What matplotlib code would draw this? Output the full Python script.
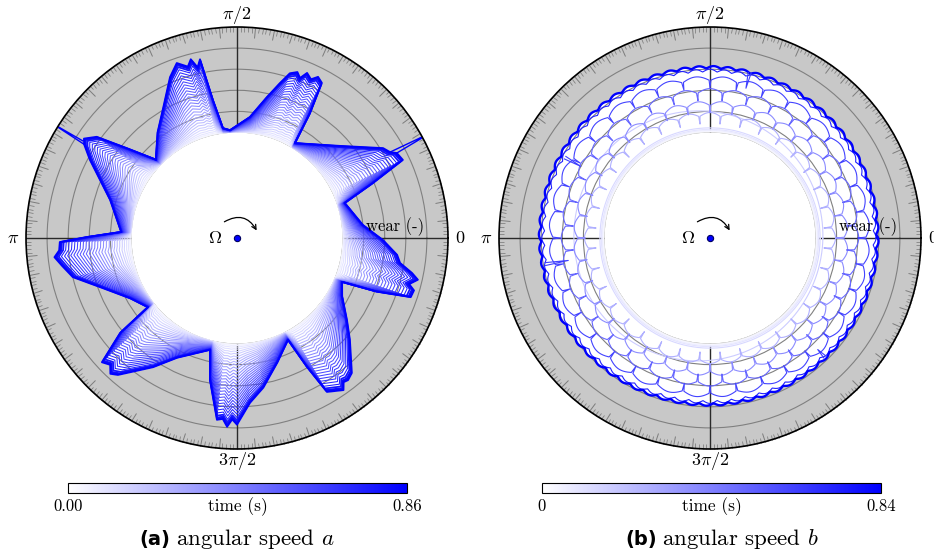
import numpy as np
import matplotlib
matplotlib.use('Agg')
import matplotlib.pyplot as plt
from matplotlib.colors import LinearSegmentedColormap, Normalize
from matplotlib.ticker import FixedLocator, FuncFormatter
from matplotlib.patches import FancyArrowPatch
import matplotlib.cm as cm

plt.rcParams['mathtext.fontset'] = 'cm'
plt.rcParams['font.family'] = ['cmr10', 'DejaVu Serif']
plt.rcParams['axes.formatter.use_mathtext'] = True

# ---------------- data: panel (a) ----------------
# final wear profile, read clockwise (degrees, wear)
theta_a = [136, 127, 119.5, 112.6, 109, 106, 104.5, 103, 101.7, 99.9, 97.3,
           93.7, 83.9, 78, 74.5, 72.2, 70, 68.5, 67, 65, 63.3, 61.3, 59.7, 58.6,
           41.8, 31.6, 29.3, 28.0, 25.2, 22, 18,
           5.9, -0.8, -6, -8.7, -11.3, -13, -15, -16.5, -18.8, -21, -22.7,
           -29, -36.7, -42, -49.6, -52, -53.5, -55, -59.7, -61.5, -63.4,
           -72, -80, -85.5, -90, -91.5, -93, -94.5, -96.3, -100.8, -103.5,
           -116.6, -123, -131, -133, -135, -137.4, -140.9, -142.2,
           -150.6, -160.3, -166.6, -171, -174, -176, -178.7, -180.4, -183,
           -196.7, -208, -211.5, -213, -215.8, -219.3, -224]
wear_a = [0.35, 1.26, 2.1, 3.26, 3.77, 3.45, 3.75, 3.3, 3.65, 1.64, 0.25,
          0.12, 0.77, 1.83, 2.62, 3.2, 3.37, 3.15, 3.5, 3.3, 3.55, 3.38, 1.86, 0.27,
          1.55, 3.13, 3.32, 3.58, 3.69, 1.95, 0.37,
          1.0, 1.92, 2.63, 2.82, 3.46, 3.8, 3.45, 3.75, 3.7, 2.1, 0.4,
          0.7, 1.5, 2.2, 3.4, 3.55, 3.5, 3.8, 3.45, 1.95, 0.4,
          1.2, 2.2, 2.84, 3.85, 3.6, 3.96, 3.6, 3.67, 1.85, 0.45,
          1.35, 2.3, 3.6, 3.8, 3.5, 3.7, 2.14, 0.35,
          0.82, 1.9, 3.0, 3.4, 3.7, 3.45, 3.4, 2.1, 0.5,
          1.28, 2.9, 3.5, 3.65, 3.2, 1.7, 0.35]
# thin spikes reaching the rim on the last profile
spike_a_theta = [[29.3, 28.5, 28.0], [148.5, 148.2, 147.8]]
spike_a_wear = [[3.32, 5.4, 3.58], [3.5, 5.4, 3.65]]
# recorded profiles: time (s) and fraction of the final wear
time_a = [0.00, 0.03, 0.06, 0.09, 0.11, 0.14, 0.17, 0.20, 0.23, 0.26, 0.29,
          0.32, 0.34, 0.37, 0.40, 0.43, 0.46, 0.49, 0.52, 0.55, 0.57, 0.60,
          0.63, 0.66, 0.69, 0.72, 0.75, 0.78, 0.80, 0.83, 0.86]
frac_a = [0.0, 0.01, 0.025, 0.045, 0.07, 0.10, 0.13, 0.165, 0.20, 0.235, 0.27,
          0.31, 0.35, 0.39, 0.43, 0.47, 0.51, 0.55, 0.59, 0.63, 0.67, 0.71,
          0.75, 0.79, 0.83, 0.87, 0.91, 0.945, 0.97, 0.985, 1.0]
tmax_a = 0.86

# ---------------- data: panel (b) ----------------
# recorded profiles: time, arc-top wear level, scallop depth, number of
# scallops, scallop phase, depth of the narrow notches between scallops,
# and the eccentric offset of the profile
time_b = [0.00, 0.03, 0.06, 0.09, 0.13, 0.17, 0.26, 0.38, 0.50, 0.62,
          0.73, 0.84]
level_b = [0.00, 0.05, 0.10, 0.15, 0.22, 0.90, 0.95, 1.50, 2.05, 2.60,
           2.92, 3.05]
amp_b = [0, 0, 0, 0, 0, 0, 0.18, 0.2, 0.2, 0.2, 0.13, 0.12]
nsc_b = [36, 36, 36, 36, 36, 36, 36, 36, 36, 36, 72, 72]
phase_b = [0, 0, 0, 0, 0, 0, 0.5, 0.0, 0.5, 0.0, 0.5, 0.25]
notch_b = [0, 0, 0, 0, 0, 0, 0.35, 0.35, 0.35, 0.35, 0.0, 0.0]
shift_x_b = [0, 0, 0, 0, 0, -0.55, 0.0, 0.04, 0.0, -0.03, -0.05, -0.06]
shift_y_b = [0, 0, 0, 0, 0, 0.10, 0.0, -0.02, 0.03, 0.06, 0.08, 0.10]
tmax_b = 0.84
# thin inward spikes on late profiles (degrees, wear)
spike_b_theta = [[-170.5, -171.0, -171.5], [150.5, 151.0, 151.5], [76.0, 76.5, 77.0],
                 [-45.5, -46.0, -46.5]]
spike_b_wear = [[2.9, 1.8, 2.9], [2.85, 2.0, 2.85], [3.05, 2.3, 3.05],
                [2.85, 2.35, 2.85]]

W, H = 934, 555
fig = plt.figure(figsize=(W / 100, H / 100), dpi=100)
cmap = LinearSegmentedColormap.from_list('wb', ['#ffffff', '#0000ff'])
FS = 11.5


def setup_polar(left_px):
    ax = fig.add_axes([left_px / W, 1 - 449 / H, 422 / W, 422 / H], projection='polar')
    ax.set_rorigin(-5)
    ax.set_ylim(0, 5)
    ax.set_facecolor('#c8c8c8')
    ax.set_yticks([0, 1, 2, 3, 4, 5])
    ax.set_yticklabels([])
    ax.yaxis.grid(True, color='#808080', lw=0.8)
    ax.xaxis.grid(False)
    ax.xaxis.set_major_locator(FixedLocator(np.deg2rad(np.arange(0, 360, 5))))
    ax.xaxis.set_minor_locator(FixedLocator(np.deg2rad(np.arange(0, 360, 1))))
    labels = {0: '$0$', 90: r'$\pi/2$', 180: r'$\pi$', 270: r'$3\pi/2$'}
    ax.xaxis.set_major_formatter(FuncFormatter(
        lambda x, p: labels.get(int(round(np.rad2deg(x))) % 360, '')))
    ax.tick_params(axis='x', which='both', bottom=False, top=True,
                   labelbottom=True, labeltop=False)
    ax.tick_params(axis='x', which='major', direction='in', length=7, width=0.7,
                   color='#7c7c7c', pad=2, labelsize=13)
    ax.tick_params(axis='x', which='minor', direction='in', length=3.5, width=0.55,
                   color='#7c7c7c')
    ax.tick_params(axis='y', length=0)
    for t in [0, 90, 180, 270]:
        ax.axvline(np.deg2rad(t), color='#2a2a2a', lw=1.0, zorder=1.6)
    ax.spines['polar'].set_color('black')
    ax.spines['polar'].set_linewidth(1.2)
    ax.spines['inner'].set_edgecolor('none')
    ax.spines['inner'].set_linewidth(0)
    for r in range(6):
        ax.annotate(f'{r}', xy=(0, r), xytext=(0, -1.5), textcoords='offset points',
                    ha='center', va='top', fontsize=FS, zorder=5)
    ax.text(0.874, 0.526, 'wear (-)', transform=ax.transAxes,
            ha='center', va='center', fontsize=12, zorder=5)
    # rotation indicator at the centre
    ax.text(0.448, 0.5, r'$\Omega$', transform=ax.transAxes, ha='center',
            va='center', fontsize=13)
    ax.plot([0.5], [0.5], 'o', transform=ax.transAxes, ms=4.5, mfc='#0000ff',
            mec='#000060', mew=0.8, clip_on=False)
    arr = FancyArrowPatch((0.4645, 0.535), (0.5498, 0.512), transform=ax.transAxes,
                          connectionstyle='arc3,rad=-0.55', arrowstyle='->',
                          mutation_scale=8, lw=0.9, color='black')
    arr.set_clip_on(False)
    ax.add_patch(arr)
    return ax


def colorbar(left_px, tmax, lab0, lab1):
    cax = fig.add_axes([left_px / W, 1 - 493 / H, 339 / W, 10 / H])
    sm = cm.ScalarMappable(norm=Normalize(0, tmax), cmap=cmap)
    cb = fig.colorbar(sm, cax=cax, orientation='horizontal', ticks=[0, tmax])
    cb.ax.set_xticklabels([lab0, lab1])
    cb.ax.tick_params(length=0, labelsize=12, pad=4)
    cb.outline.set_linewidth(0.8)
    cax.text(0.5, -0.42, 'time (s)', transform=cax.transAxes,
             ha='center', va='top', fontsize=12.5)


# ---------------- panel (a) ----------------
axA = setup_polar(26)
th_a = np.deg2rad(theta_a)
wa = np.array(wear_a)
axA.fill_between(th_a, 0, wa, color='white', lw=0, zorder=1)
for t, f in zip(time_a, frac_a):
    lw = 1.3 if f >= 0.94 else 0.75
    axA.plot(th_a, wa * f, color=cmap(t / tmax_a), lw=lw, zorder=2)
for st, sw in zip(spike_a_theta, spike_a_wear):
    axA.plot(np.deg2rad(st), sw, color='#0000ff', lw=1.0, zorder=2)
colorbar(68, tmax_a, '0.00', '0.86')

# ---------------- panel (b) ----------------
axB = setup_polar(499)
th_b = np.linspace(0, 2 * np.pi, 8641)
curves_b = []
for lev, amp, n, ph, nd, sx, sy in zip(level_b, amp_b, nsc_b, phase_b, notch_b,
                                       shift_x_b, shift_y_b):
    s = np.abs(np.sin(n * (th_b - ph * 2 * np.pi / n) / 2))
    w = (lev - amp * (1 - s) - nd * np.clip(1 - s / 0.1, 0, 1)
         + sx * np.cos(th_b) + sy * np.sin(th_b))
    curves_b.append(w)
axB.fill_between(th_b, 0, curves_b[-1], color='white', lw=0, zorder=1)
for i, (t, w) in enumerate(zip(time_b, curves_b)):
    last = i == len(curves_b) - 1
    axB.plot(th_b, w, color=cmap(t / tmax_b), lw=1.7 if last else 0.8, zorder=2)
for st, sw in zip(spike_b_theta, spike_b_wear):
    axB.plot(np.deg2rad(st), sw, color=cmap(0.75), lw=0.8, zorder=2)
colorbar(542, tmax_b, '0', '0.84')

fig.text(139 / W, 1 - 539 / H, '(a)', fontweight='bold', family='DejaVu Sans',
         fontsize=14, ha='left', va='center')
fig.text(176 / W, 1 - 539 / H, r'angular speed $a$', fontsize=16.5,
         ha='left', va='center')
fig.text(625 / W, 1 - 539 / H, '(b)', fontweight='bold', family='DejaVu Sans',
         fontsize=14, ha='left', va='center')
fig.text(662 / W, 1 - 539 / H, r'angular speed $b$', fontsize=16.5,
         ha='left', va='center')

fig.savefig('out.png', dpi=100)
